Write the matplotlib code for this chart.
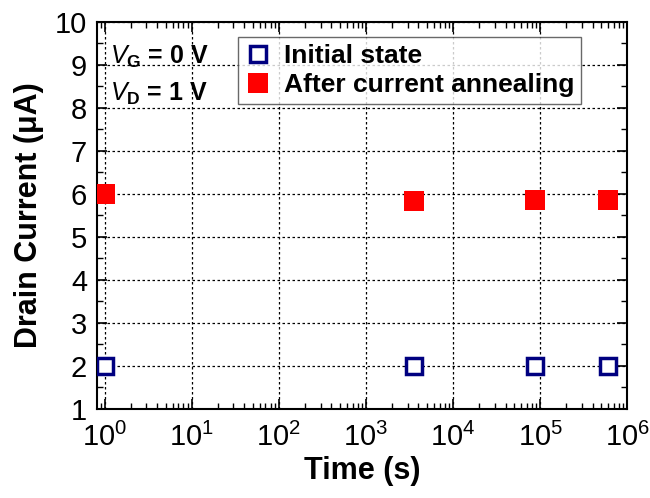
import matplotlib
matplotlib.use("Agg")
import matplotlib.pyplot as plt
from matplotlib.ticker import FixedLocator, LogLocator, MultipleLocator, NullFormatter

plt.rcParams['font.family'] = ['Liberation Sans', 'DejaVu Sans']
plt.rcParams['mathtext.fontset'] = 'custom'
plt.rcParams['mathtext.rm'] = 'Liberation Sans'
plt.rcParams['mathtext.it'] = 'Liberation Sans:italic'
plt.rcParams['mathtext.bf'] = 'Liberation Sans:bold'

# Measurement times (s): start, 1 hour, 1 day, 1 week
time_s = [1, 3600, 86400, 604800]
initial_uA = [2.0, 2.0, 2.0, 2.0]
annealed_uA = [6.0, 5.83, 5.86, 5.86]

x_ticks = [1e0, 1e1, 1e2, 1e3, 1e4, 1e5, 1e6]
x_tick_labels = [r'$10^{%d}$' % e for e in range(7)]

fig = plt.figure(figsize=(6.5, 4.98), dpi=100)
ax = fig.add_axes([0.149, 0.179, 0.816, 0.777])

ax.plot(time_s, initial_uA, linestyle='none', marker='s', markersize=12,
        markerfacecolor='white', markeredgecolor='#000080', markeredgewidth=2.5,
        label='Initial state', zorder=3)
ax.plot(time_s, annealed_uA, linestyle='none', marker='s', markersize=14,
        markerfacecolor='#ff0000', markeredgecolor='#ff0000', markeredgewidth=0,
        label='After current annealing', zorder=3)

ax.set_xscale('log')
ax.set_xlim(0.81, 1.0e6)
ax.set_ylim(1, 10)
ax.xaxis.set_major_locator(FixedLocator(x_ticks))
ax.set_xticklabels(x_tick_labels)
ax.xaxis.set_minor_locator(LogLocator(base=10, subs=range(2, 10), numticks=20))
ax.xaxis.set_minor_formatter(NullFormatter())
ax.yaxis.set_major_locator(MultipleLocator(1))
ax.yaxis.set_minor_locator(MultipleLocator(0.5))

ax.tick_params(which='both', direction='in', top=True, right=True)
ax.tick_params(which='major', length=7, width=1.2, labelsize=21)
ax.tick_params(axis='x', which='major', pad=10)
ax.tick_params(axis='y', which='major', pad=7)
ax.tick_params(which='minor', length=4, width=1.0)
for s in ax.spines.values():
    s.set_linewidth(1.5)

ax.grid(True, which='major', linestyle=(0, (2, 2)), color='black', linewidth=0.9)

ax.set_xlabel('Time (s)', fontsize=22, fontweight='bold', labelpad=3)
ax.set_ylabel('Drain Current (μA)', fontsize=22, fontweight='bold', labelpad=8)

ax.text(0.025, 0.91, r'$\mathbf{\mathit{V}_G}$ = 0 V', transform=ax.transAxes,
        fontsize=18, fontweight='bold', va='center', ha='left')
ax.text(0.025, 0.815, r'$\mathbf{\mathit{V}_D}$ = 1 V', transform=ax.transAxes,
        fontsize=18, fontweight='bold', va='center', ha='left')

leg = ax.legend(loc='upper right', bbox_to_anchor=(0.913, 0.96),
                prop={'weight': 'bold', 'size': 19}, frameon=True, fancybox=False,
                edgecolor='#444444', handletextpad=0.5, borderpad=0.25,
                labelspacing=0.2, handlelength=1.0, borderaxespad=0)
leg.get_frame().set_linewidth(1.0)

fig.savefig('out.png', dpi=100)
